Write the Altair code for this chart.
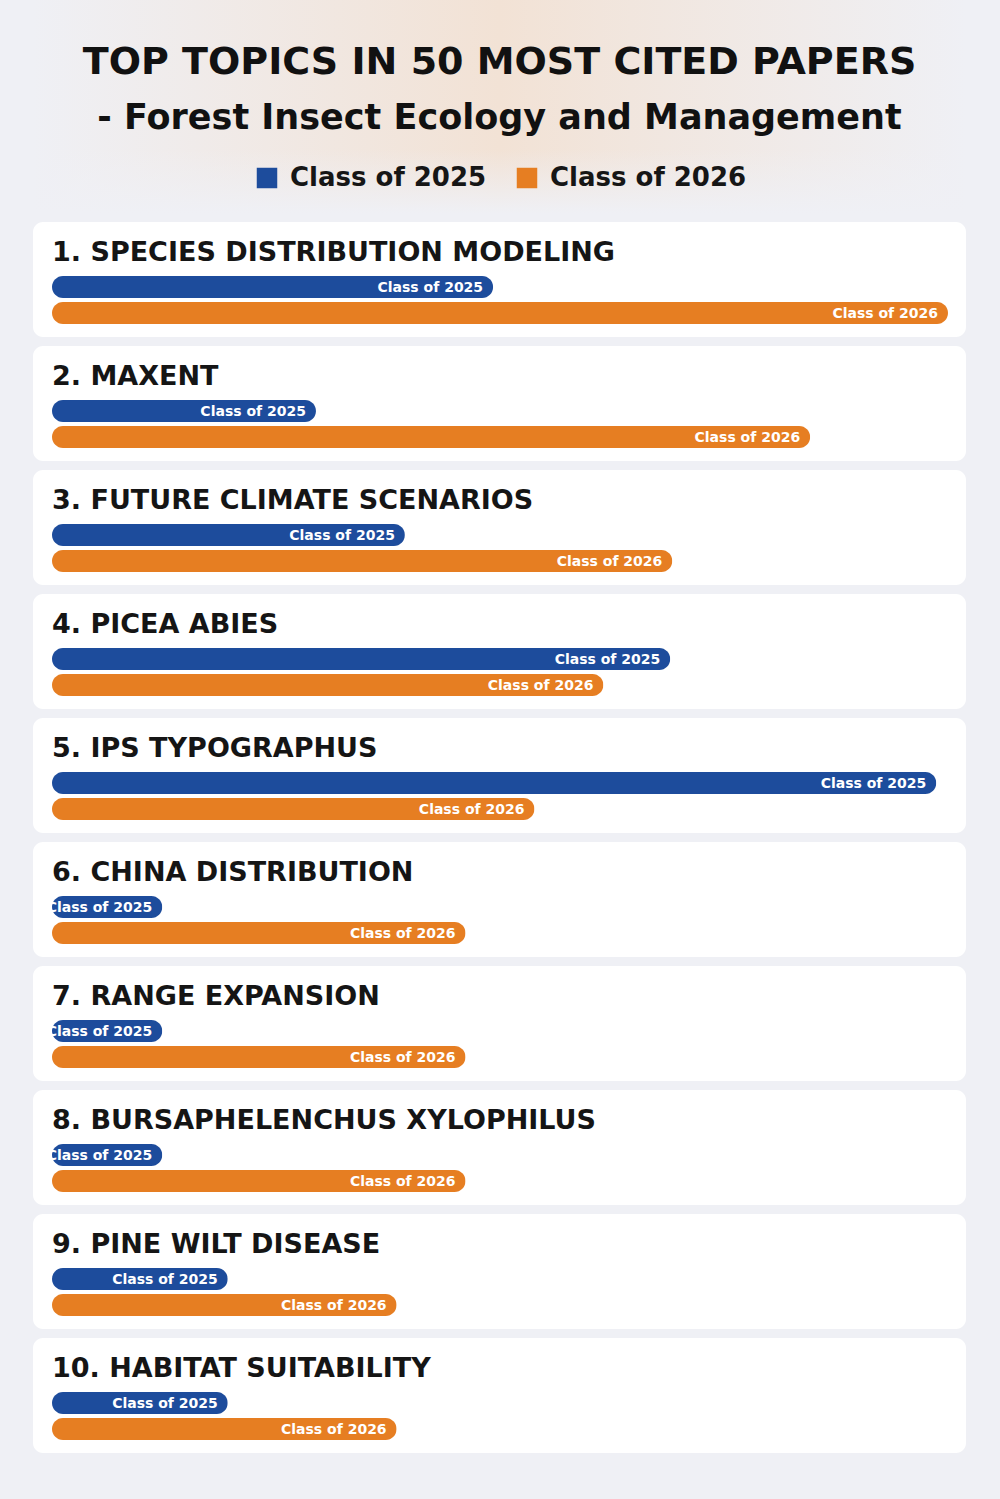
import altair as alt
import pandas as pd

topics = [
    "1. SPECIES DISTRIBUTION MODELING",
    "2. MAXENT",
    "3. FUTURE CLIMATE SCENARIOS",
    "4. PICEA ABIES",
    "5. IPS TYPOGRAPHUS",
    "6. CHINA DISTRIBUTION",
    "7. RANGE EXPANSION",
    "8. BURSAPHELENCHUS XYLOPHILUS",
    "9. PINE WILT DISEASE",
    "10. HABITAT SUITABILITY",
]
series = ["Class of 2025", "Class of 2026"]
values_2025 = [6.40, 3.83, 5.12, 8.97, 12.83, 1.60, 1.60, 1.60, 2.55, 2.55]
values_2026 = [13, 11, 9, 8, 7, 6, 6, 6, 5, 5]
colors = ["#1d4c9c", "#e67e22"]
title_lines = ["TOP TOPICS IN 50 MOST CITED PAPERS", "- Forest Insect Ecology and Management"]

FONT = "DejaVu Sans"
PANEL_W = 933
CARD_H = 115
HEADER_H = 213
BG = "#eff0f5"

color_scale = alt.Scale(domain=series, range=colors)
legend = alt.Legend(
    orient="none", legendX=221, legendY=165, direction="horizontal", title=None,
    symbolType="square", symbolSize=420, symbolStrokeWidth=0, symbolOpacity=1,
    labelFont=FONT, labelFontSize=26, labelFontWeight="bold", labelColor="#161616",
    labelOffset=10, columnPadding=27, labelLimit=400,
)


def card(i):
    df = pd.DataFrame({"series": series, "value": [values_2025[i], values_2026[i]]})
    x = alt.X("value:Q", scale=alt.Scale(domain=[0, 13], range=[19, 915]), axis=None)
    y = alt.Y("series:N", scale=alt.Scale(domain=series, range=[54, 102],
                                          paddingInner=4 / 26, paddingOuter=0), axis=None)
    bars = alt.Chart(df).mark_bar(cornerRadius=11).encode(
        x=x, y=y, color=alt.Color("series:N", scale=color_scale, legend=legend)
    )
    labels = alt.Chart(df).mark_text(
        align="right", baseline="middle", dx=-10, dy=0.5, color="white",
        font=FONT, fontWeight="bold", fontSize=14,
    ).encode(x=x, y=y, text="series:N")
    head = alt.Chart(pd.DataFrame({"topic": [topics[i]]})).mark_text(
        align="left", baseline="alphabetic", font=FONT, fontWeight="bold",
        fontSize=27, color="#151515",
    ).encode(x=alt.value(19), y=alt.value(39), text="topic:N")
    return alt.layer(bars, labels, head).properties(
        width=PANEL_W, height=CARD_H,
        view=alt.ViewBackground(fill="white", cornerRadius=10, strokeWidth=0),
    )


hdf = pd.DataFrame({"line": title_lines})
glow = alt.LinearGradient(
    gradient="linear", x1=0, y1=0, x2=1, y2=0,
    stops=[
        alt.GradientStop(offset=0, color=BG),
        alt.GradientStop(offset=0.5, color="#f2e2d5"),
        alt.GradientStop(offset=1, color=BG),
    ],
)
fade = alt.LinearGradient(
    gradient="linear", x1=0, y1=0, x2=0, y2=1,
    stops=[
        alt.GradientStop(offset=0, color="rgba(239,240,245,0)"),
        alt.GradientStop(offset=0.7, color="rgba(239,240,245,0)"),
        alt.GradientStop(offset=1, color="rgba(239,240,245,1)"),
    ],
)
backdrop = alt.Chart(hdf.iloc[[0]]).mark_rect(fill=glow).encode(
    x=alt.value(0), x2=alt.value(PANEL_W), y=alt.value(0), y2=alt.value(HEADER_H)
)
backfade = alt.Chart(hdf.iloc[[0]]).mark_rect(fill=fade).encode(
    x=alt.value(0), x2=alt.value(PANEL_W), y=alt.value(0), y2=alt.value(HEADER_H)
)
t1 = alt.Chart(hdf.iloc[[0]]).mark_text(
    align="center", baseline="alphabetic", font=FONT, fontWeight="bold", fontSize=38, color="#111111"
).encode(x=alt.value(PANEL_W / 2), y=alt.value(74), text="line:N")
t2 = alt.Chart(hdf.iloc[[1]]).mark_text(
    align="center", baseline="alphabetic", font=FONT, fontWeight="bold", fontSize=35, color="#111111"
).encode(x=alt.value(PANEL_W / 2), y=alt.value(129), text="line:N")

header = alt.layer(backdrop, backfade, t1, t2).properties(
    width=PANEL_W, height=HEADER_H,
    view=alt.ViewBackground(fill="transparent", strokeWidth=0),
)

chart = alt.vconcat(header, *[card(i) for i in range(len(topics))], spacing=9).properties(
    background=BG,
    padding={"left": 33, "right": 34, "top": 0, "bottom": 46},
).configure_view(strokeWidth=0)

chart.save("out.html", embed_options={"renderer": "svg", "actions": False})
